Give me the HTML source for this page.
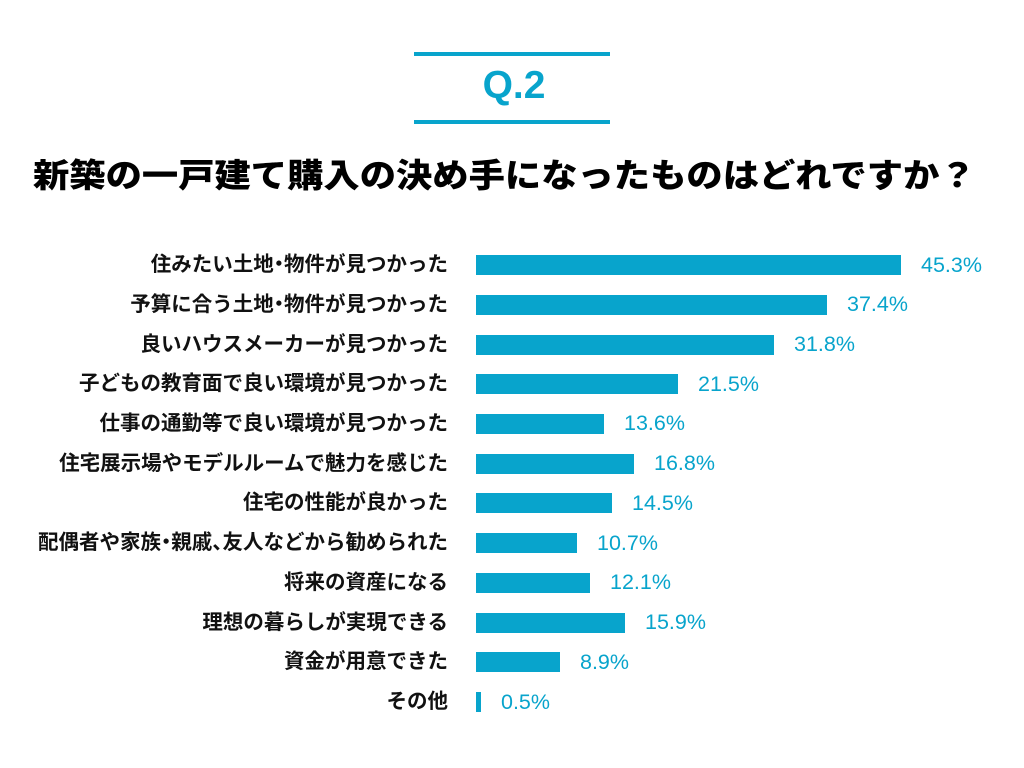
<!DOCTYPE html>
<html lang="ja">
<head>
<meta charset="utf-8">
<style>
  html, body { margin:0; padding:0; }
  body { width:1024px; height:768px; background:#ffffff; position:relative; overflow:hidden; }
  .hline { position:absolute; left:414px; width:196px; height:4px; background:#08a4cc; }
  .q { position:absolute; left:2px; width:1024px; top:66px; text-align:center; font-family:"Liberation Sans", sans-serif; font-weight:700; font-size:39px; line-height:40px; color:#08a4cc; }
  .title { position:absolute; left:33px; top:159px; white-space:nowrap; font-family:"Liberation Sans","Noto Sans CJK JP",sans-serif; font-weight:900; font-size:33px; line-height:33px; color:#000; transform:scaleX(1.1); transform-origin:0 0; }
  .lab { position:absolute; right:576px; white-space:nowrap; text-align:right; font-family:"Liberation Sans","Noto Sans CJK JP",sans-serif; font-weight:700; font-size:20.5px; line-height:20px; color:#111; }
  .h { font-feature-settings:"halt"; }
  .bar { position:absolute; left:476px; height:20px; background:#08a4cc; }
  .pct { position:absolute; white-space:nowrap; font-family:"Liberation Sans", sans-serif; font-size:21.5px; line-height:20px; color:#08a4cc; }
</style>
</head>
<body>
  <div class="hline" style="top:52px"></div>
  <div class="q">Q.2</div>
  <div class="hline" style="top:120px"></div>

  <div class="title">新築の一戸建て購入の決め手になったものはどれですか？</div>

  <!-- row 1 -->
  <div class="lab" style="top:255px">住みたい土地<span class="h">・</span>物件が見つかった</div>
  <div class="bar" style="top:255px;width:425px"></div>
  <div class="pct" style="top:254.5px;left:921px">45.3%</div>

  <!-- row 2 -->
  <div class="lab" style="top:294.7px">予算に合う土地<span class="h">・</span>物件が見つかった</div>
  <div class="bar" style="top:294.7px;width:351px"></div>
  <div class="pct" style="top:294.2px;left:847px">37.4%</div>

  <!-- row 3 -->
  <div class="lab" style="top:334.5px">良いハウスメーカーが見つかった</div>
  <div class="bar" style="top:334.5px;width:298px"></div>
  <div class="pct" style="top:334px;left:794px">31.8%</div>

  <!-- row 4 -->
  <div class="lab" style="top:374.2px">子どもの教育面で良い環境が見つかった</div>
  <div class="bar" style="top:374.2px;width:202px"></div>
  <div class="pct" style="top:373.7px;left:698px">21.5%</div>

  <!-- row 5 -->
  <div class="lab" style="top:413.9px">仕事の通勤等で良い環境が見つかった</div>
  <div class="bar" style="top:413.9px;width:128px"></div>
  <div class="pct" style="top:413.4px;left:624px">13.6%</div>

  <!-- row 6 -->
  <div class="lab" style="top:453.6px">住宅展示場やモデルルームで魅力を感じた</div>
  <div class="bar" style="top:453.6px;width:158px"></div>
  <div class="pct" style="top:453.1px;left:654px">16.8%</div>

  <!-- row 7 -->
  <div class="lab" style="top:493.4px">住宅の性能が良かった</div>
  <div class="bar" style="top:493.4px;width:136px"></div>
  <div class="pct" style="top:492.9px;left:632px">14.5%</div>

  <!-- row 8 -->
  <div class="lab" style="top:533.1px">配偶者や家族<span class="h">・</span>親戚<span class="h">、</span>友人などから勧められた</div>
  <div class="bar" style="top:533.1px;width:101px"></div>
  <div class="pct" style="top:532.6px;left:597px">10.7%</div>

  <!-- row 9 -->
  <div class="lab" style="top:572.8px">将来の資産になる</div>
  <div class="bar" style="top:572.8px;width:114px"></div>
  <div class="pct" style="top:572.3px;left:610px">12.1%</div>

  <!-- row 10 -->
  <div class="lab" style="top:612.6px">理想の暮らしが実現できる</div>
  <div class="bar" style="top:612.6px;width:149px"></div>
  <div class="pct" style="top:612.1px;left:645px">15.9%</div>

  <!-- row 11 -->
  <div class="lab" style="top:652.3px">資金が用意できた</div>
  <div class="bar" style="top:652.3px;width:84px"></div>
  <div class="pct" style="top:651.8px;left:580px">8.9%</div>

  <!-- row 12 -->
  <div class="lab" style="top:692px">その他</div>
  <div class="bar" style="top:692px;width:5px"></div>
  <div class="pct" style="top:691.5px;left:501px">0.5%</div>
</body>
</html>
